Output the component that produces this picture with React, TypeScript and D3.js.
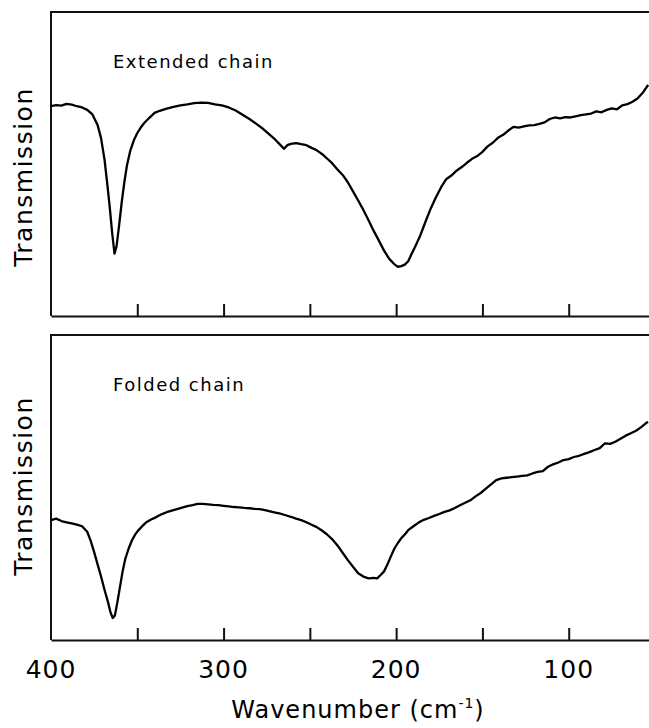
import React, { useEffect, useRef } from "react";
import * as d3 from "d3";

// readings taken off the spectra: wavenumber (cm-1) and transmission (0-100 of panel height)
const extendedWave = [400, 397, 394, 391, 388, 385, 382, 379, 376, 373, 371, 369, 367.5, 366, 364.5, 363.2, 362, 360.5, 359, 357.5, 356, 354, 352, 350, 348, 346, 343, 340, 337, 333, 329, 325, 321, 317, 313, 309, 305, 301, 297, 293, 289, 285, 281, 277, 273, 270, 267, 265, 263, 261, 258, 255, 252, 249, 246, 243, 240, 237, 234, 231, 228, 225, 222, 219, 216, 213, 210, 207, 204, 201, 199, 197, 195, 193, 191, 189, 186, 183, 180, 177, 174, 171, 168, 165, 162, 159, 156, 153, 150, 147, 144, 141, 138, 135, 132, 129, 126, 123, 120, 117, 114, 111, 108, 105, 102, 99, 96, 93, 90, 87, 84, 81, 78, 75, 72, 69, 66, 63, 60, 57, 54];
const extendedTrans = [69.0, 69.4, 69.2, 69.8, 69.5, 69.0, 68.6, 67.8, 66.3, 62.8, 58.5, 51.5, 44.0, 36.0, 27.0, 20.5, 23.0, 30.0, 37.5, 44.0, 49.5, 54.5, 57.8, 60.2, 62.0, 63.5, 65.2, 66.8, 67.5, 68.2, 68.8, 69.3, 69.6, 70.0, 70.2, 70.1, 69.6, 69.3, 68.6, 67.6, 66.2, 64.8, 63.2, 61.5, 59.5, 58.0, 56.2, 55.0, 56.2, 56.6, 56.9, 56.5, 56.2, 55.3, 54.5, 53.3, 51.8, 50.2, 48.2, 46.4, 44.0, 41.0, 38.0, 34.9, 31.5, 28.0, 24.8, 21.5, 18.8, 17.0, 16.2, 16.4, 16.9, 18.0, 20.5, 22.8, 26.5, 31.0, 35.3, 39.0, 42.3, 45.0, 46.2, 47.8, 49.0, 50.4, 51.7, 52.6, 54.0, 55.8, 57.0, 58.6, 59.6, 61.0, 62.2, 62.0, 62.4, 62.7, 62.8, 63.2, 63.7, 64.8, 65.3, 65.0, 65.4, 65.3, 65.7, 66.1, 66.3, 66.6, 67.3, 67.0, 67.8, 68.3, 68.0, 69.3, 69.7, 70.5, 71.6, 73.5, 76.0];

const foldedWave = [400, 397, 394, 391, 388, 385, 382, 379, 377, 375, 373, 371, 369, 367, 365.5, 364.2, 363, 361.5, 360, 358.5, 357, 355, 353, 351, 349, 347, 345, 342, 339, 336, 333, 330, 327, 324, 321, 318, 315, 312, 309, 306, 303, 300, 297, 294, 291, 288, 285, 282, 279, 276, 273, 270, 267, 264, 261, 258, 255, 252, 249, 246, 243, 240, 237, 234, 231, 228, 225, 222, 219, 216, 213, 211, 209, 207, 205, 203, 201, 199, 197, 195, 193, 190, 187, 184, 181, 178, 175, 172, 169, 166, 163, 160, 157, 154, 151, 148, 145, 142, 139, 136, 133, 130, 127, 124, 121, 118, 115, 112, 109, 106, 103, 100, 97, 94, 91, 88, 85, 82, 79, 76, 73, 70, 67, 64, 61, 58, 55, 54];
const foldedTrans = [39.3, 39.8, 39.0, 38.6, 38.2, 37.8, 37.3, 35.5, 32.5, 28.8, 24.8, 20.8, 16.5, 12.5, 9.0, 7.2, 8.0, 12.5, 17.5, 22.5, 26.5, 30.0, 32.8, 34.8, 36.2, 37.4, 38.5, 39.5, 40.3, 41.2, 41.9, 42.4, 42.9, 43.4, 43.9, 44.2, 44.6, 44.6, 44.5, 44.3, 44.2, 44.0, 43.8, 43.6, 43.5, 43.3, 43.2, 43.0, 42.9, 42.6, 42.2, 41.8, 41.4, 40.9, 40.4, 39.8, 39.3, 38.6, 37.8, 37.0, 35.9, 34.6, 33.0, 31.0, 28.6, 26.2, 24.0, 21.9, 20.8, 20.2, 20.4, 20.2, 21.3, 22.5, 24.8, 27.5, 30.0, 31.8, 33.4, 34.6, 36.0, 37.3, 38.5, 39.4, 40.0, 40.7, 41.3, 42.0, 42.5, 43.3, 44.2, 45.0, 45.8, 47.1, 48.2, 49.6, 51.0, 52.4, 53.0, 53.2, 53.4, 53.6, 53.8, 54.0, 54.6, 55.1, 55.4, 56.8, 57.6, 58.2, 59.0, 59.3, 60.0, 60.4, 61.0, 61.6, 62.3, 62.9, 64.5, 64.3, 65.0, 66.0, 67.0, 67.8, 68.6, 69.8, 71.2, 71.5];

const tickValues = [350, 300, 250, 200, 150, 100];
const tickLabels = [400, 300, 200, 100];
const panelLabels = ["Extended chain", "Folded chain"];
const yLabel = "Transmission";

export default function App() {
    const svgRef = useRef<SVGSVGElement>(null);

    useEffect(() => {
        const svg = d3.select(svgRef.current);
        svg.selectAll("*").remove();

        const width = 649;
        const height = 728;
        const font = "'DejaVu Sans', sans-serif";

        //both panels share the wavenumber scale (axis runs past the cropped right edge)
        const x = d3.scaleLinear().domain([400, 50]).range([51, 655]);

        const panels = [
            { top: 12, bottom: 316, labelY: 177, wave: extendedWave, trans: extendedTrans, label: panelLabels[0] },
            { top: 335, bottom: 640, labelY: 486, wave: foldedWave, trans: foldedTrans, label: panelLabels[1] },
        ];

        svg.attr("width", width).attr("height", height);

        panels.forEach((p) => {
            const y = d3.scaleLinear().domain([0, 100]).range([p.bottom, p.top]);
            const g = svg.append("g");

            //frame: top and left edges
            g.append("path")
                .attr("d", `M${x(50)},${p.top}H${x(400)}V${p.bottom}`)
                .attr("fill", "none")
                .attr("stroke", "#111")
                .attr("stroke-width", 2);

            //bottom axis with inward ticks
            g.append("g")
                .attr("transform", `translate(0,${p.bottom})`)
                .call(d3.axisBottom(x).tickValues(tickValues).tickSizeInner(-12).tickSizeOuter(0).tickFormat(() => ""))
                .call((a) => a.selectAll("path, line").attr("stroke", "#111").attr("stroke-width", 2));

            //spectrum
            const pts = p.wave.map((w, i) => [w, p.trans[i]] as [number, number]);
            g.append("path")
                .datum(pts)
                .attr("fill", "none")
                .attr("stroke", "#000")
                .attr("stroke-width", 2.3)
                .attr("stroke-linejoin", "round")
                .attr("d", d3.line<[number, number]>()
                    .x((d) => x(d[0]))
                    .y((d) => y(d[1])));

            //panel label
            g.append("text")
                .attr("x", 113)
                .attr("y", p.top + 56)
                .attr("font-family", font)
                .attr("font-size", 18)
                .attr("letter-spacing", 1.5)
                .attr("fill", "#000")
                .text(p.label);

            //y axis title
            g.append("text")
                .attr("transform", `translate(32,${p.labelY}) rotate(-90)`)
                .attr("text-anchor", "middle")
                .attr("font-family", font)
                .attr("font-size", 25)
                .attr("letter-spacing", 1.5)
                .attr("fill", "#000")
                .text(yLabel);
        });

        //tick labels under the lower panel
        svg.append("g")
            .selectAll("text")
            .data(tickLabels)
            .join("text")
            .attr("x", (d) => x(d))
            .attr("y", 678)
            .attr("text-anchor", "middle")
            .attr("font-family", font)
            .attr("font-size", 25)
            .attr("letter-spacing", 1)
            .attr("fill", "#000")
            .text((d) => d);

        //x axis title
        const xt = svg.append("text")
            .attr("x", 358)
            .attr("y", 718)
            .attr("text-anchor", "middle")
            .attr("font-family", font)
            .attr("font-size", 24)
            .attr("letter-spacing", 1)
            .attr("fill", "#000");
        xt.append("tspan").text("Wavenumber (cm");
        xt.append("tspan").attr("dy", -10).attr("font-size", 14).text("-1");
        xt.append("tspan").attr("dy", 10).text(")");
    }, []);

    return (
        <div style={{ position: "absolute", left: 0, top: 0 }}>
            <svg ref={svgRef} style={{ display: "block" }}></svg>
        </div>
    );
}
